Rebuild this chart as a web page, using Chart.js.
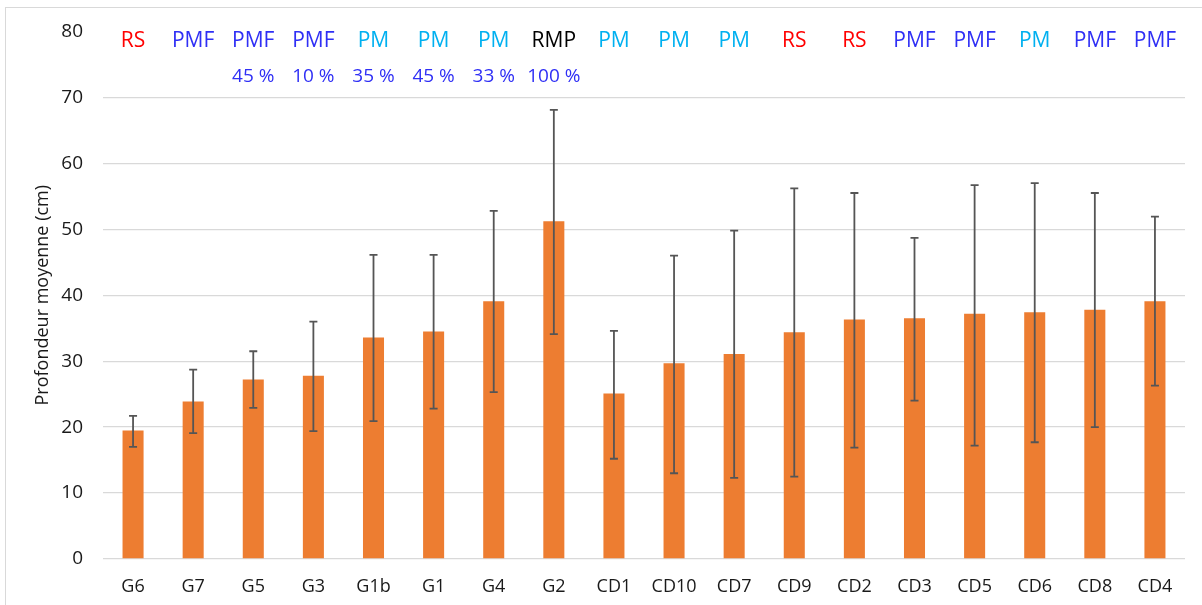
<!DOCTYPE html>
<html lang="fr">
<head>
    <meta charset="UTF-8">
    <title>Profondeur moyenne</title>
    <style>
        * { margin: 0; padding: 0; box-sizing: border-box; }
        body { background: #fff; width: 1202px; height: 605px; overflow: hidden; position: relative; }
        .frame { position: absolute; left: 5px; top: 7px; right: 0; bottom: 0; border-top: 1px solid #d9d9d9; border-left: 1px solid #d9d9d9; }
        #wrap { position: absolute; left: 0; top: 0; width: 1202px; height: 605px; }
    </style>
    <script src="https://cdn.jsdelivr.net/npm/chart.js"></script>
</head>
<body>
    <div class="frame"></div>
    <div id="wrap"><canvas id="chart"></canvas></div>

    <script>
        // data
        const sites = ['G6', 'G7', 'G5', 'G3', 'G1b', 'G1', 'G4', 'G2', 'CD1', 'CD10', 'CD7', 'CD9', 'CD2', 'CD3', 'CD5', 'CD6', 'CD8', 'CD4'];
        const depth = [19.5, 23.9, 27.2, 27.8, 33.6, 34.5, 39.1, 51.2, 25.1, 29.7, 31.1, 34.4, 36.3, 36.5, 37.2, 37.4, 37.8, 39.1];
        const errHigh = [21.7, 28.7, 31.5, 36.0, 46.1, 46.1, 52.8, 68.1, 34.6, 46.0, 49.8, 56.2, 55.5, 48.7, 56.7, 57.0, 55.5, 51.9];
        const errLow = [17.0, 19.1, 22.9, 19.4, 20.9, 22.8, 25.3, 34.1, 15.2, 13.0, 12.3, 12.5, 16.9, 24.0, 17.2, 17.7, 20.0, 26.3];
        const types = ['RS', 'PMF', 'PMF', 'PMF', 'PM', 'PM', 'PM', 'RMP', 'PM', 'PM', 'PM', 'RS', 'RS', 'PMF', 'PMF', 'PM', 'PMF', 'PMF'];
        const shares = ['', '', '45 %', '10 %', '35 %', '45 %', '33 %', '100 %', '', '', '', '', '', '', '', '', '', ''];
        const yTicks = [0, 10, 20, 30, 40, 50, 60, 70, 80];

        const typeColors = { RS: '#ff0000', PMF: '#2f2ff5', PM: '#00b0f0', RMP: '#000000' };
        const FONT = '"Open Sans", sans-serif';

        const errorBars = {
            id: 'errorBars',
            afterDatasetsDraw(chart) {
                const ctx = chart.ctx, x = chart.scales.x, y = chart.scales.y;
                ctx.save();
                ctx.strokeStyle = '#555';
                ctx.lineWidth = 1.8;
                sites.forEach((s, i) => {
                    const px = x.getPixelForValue(i);
                    const top = y.getPixelForValue(errHigh[i]);
                    const bot = y.getPixelForValue(errLow[i]);
                    ctx.beginPath();
                    ctx.moveTo(px, top); ctx.lineTo(px, bot);
                    ctx.moveTo(px - 4, top); ctx.lineTo(px + 4, top);
                    ctx.moveTo(px - 4, bot); ctx.lineTo(px + 4, bot);
                    ctx.stroke();
                });
                ctx.restore();
            }
        };

        const typeLabels = {
            id: 'typeLabels',
            afterDraw(chart) {
                const ctx = chart.ctx, x = chart.scales.x, y = chart.scales.y;
                ctx.save();
                ctx.textAlign = 'center';
                ctx.textBaseline = 'middle';
                sites.forEach((s, i) => {
                    const px = x.getPixelForValue(i);
                    ctx.font = '21px ' + FONT;
                    ctx.fillStyle = typeColors[types[i]];
                    ctx.fillText(types[i], px, y.getPixelForValue(78.6));
                    if (shares[i]) {
                        ctx.font = '19px ' + FONT;
                        ctx.fillStyle = typeColors.PMF;
                        ctx.fillText(shares[i], px, y.getPixelForValue(73.2));
                    }
                });
                ctx.restore();
            }
        };

        new Chart(document.getElementById('chart'), {
            type: 'bar',
            data: {
                labels: sites,
                datasets: [{
                    label: 'Profondeur moyenne',
                    data: depth,
                    backgroundColor: '#ed7d31',
                    categoryPercentage: 1,
                    barPercentage: 0.35
                }]
            },
            options: {
                responsive: true,
                maintainAspectRatio: false,
                animation: false,
                layout: { padding: { top: 30, right: 17, left: 0, bottom: 0 } },
                plugins: { legend: { display: false }, tooltip: { enabled: false } },
                scales: {
                    x: {
                        grid: { display: false },
                        border: { display: false },
                        ticks: { color: '#1a1a1a', font: { family: FONT, size: 18 }, padding: 9, maxRotation: 0 },
                        afterFit(scale) { scale.height = 46; }
                    },
                    y: {
                        min: 0,
                        max: 80,
                        afterBuildTicks(scale) { scale.ticks = yTicks.map(v => ({ value: v })); },
                        grid: {
                            color: ctx => ctx.tick && ctx.tick.value === 80 ? 'rgba(0,0,0,0)' : '#d9d9d9',
                            lineWidth: 1.3,
                            drawTicks: false
                        },
                        border: { display: false },
                        ticks: { color: '#1a1a1a', font: { family: FONT, size: 19 }, padding: 20 },
                        title: {
                            display: true,
                            text: 'Profondeur moyenne (cm)',
                            color: '#1a1a1a',
                            font: { family: FONT, size: 18 },
                            padding: { top: 32, bottom: 0 }
                        },
                        afterFit(scale) { scale.width = 103; }
                    }
                }
            },
            plugins: [errorBars, typeLabels]
        });
    </script>
</body>
</html>
